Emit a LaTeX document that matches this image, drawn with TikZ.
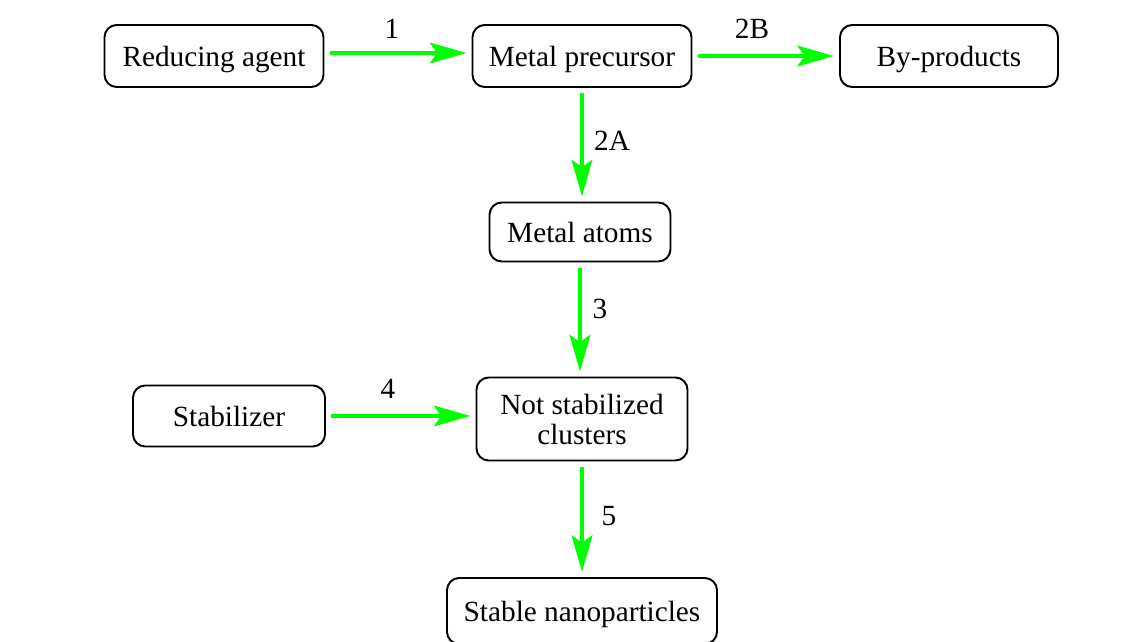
\documentclass[tikz,border=0pt]{standalone}
\usepackage{fontspec}
\setmainfont{Liberation Serif}
\usetikzlibrary{arrows.meta,positioning}

\begin{document}
\begin{tikzpicture}[x=0.0144cm,y=-0.0144cm,
		stepbox/.style={draw,line width=0.8pt,rounded corners=5pt,font=\fontsize{12}{13}\selectfont,align=center,inner sep=0pt,outer sep=2.5pt,text height=10.4pt,text depth=1.6pt},
		flow/.style={-{Stealth[length=15pt,width=8.5pt,inset=3pt]},line width=1.3pt,color=green},
		num/.style={font=\fontsize{12}{13}\selectfont}]
		\useasboundingbox (0,0) rectangle (1140,642);
		% boxes
		\node[stepbox,minimum width=219*0.0144cm,minimum height=62*0.0144cm] (agent) at (214,56) {Reducing agent};
		\node[stepbox,minimum width=219*0.0144cm,minimum height=62*0.0144cm] (precursor) at (582,56) {Metal precursor};
		\node[stepbox,minimum width=218*0.0144cm,minimum height=62*0.0144cm] (byprod) at (949,56) {By-products};
		\node[stepbox,minimum width=181*0.0144cm,minimum height=59*0.0144cm] (atoms) at (580,232) {Metal atoms};
		\node[stepbox,minimum width=192*0.0144cm,minimum height=61*0.0144cm] (stab) at (229,416) {Stabilizer};
		\node[stepbox,minimum width=211*0.0144cm,minimum height=83*0.0144cm,text height=,text depth=] (clusters) at (582,419)
			{\raisebox{-1.6pt}[\height][\depth]{\begin{tabular}{@{}c@{}}Not stabilized\\[-0.6pt]clusters\end{tabular}}};
		\node[stepbox,minimum width=270*0.0144cm,minimum height=66*0.0144cm] (nano) at (582,611) {Stable nanoparticles};
		% arrows
		\draw[flow] ([yshift=3*0.0144cm]agent.east) -- ([yshift=3*0.0144cm]precursor.west);
		\draw[flow] (precursor) -- (byprod);
		\draw[flow] (precursor) -- (precursor |- atoms.north);
		\draw[flow] (atoms) -- (atoms |- clusters.north);
		\draw[flow] (stab.east) -- (stab.east -| clusters.west);
		\draw[flow] (clusters) -- (nano);
		% step numbers
		\node[num] (n1) at (392,29) {1};
		\node[num] (n2b) at (752,29) {2B};
		\node[num] (n2a) at (612,141) {2A};
		\node[num] (n3) at (600,309) {3};
		\node[num] (n4) at (388,389) {4};
		\node[num] (n5) at (609,516) {5};
\end{tikzpicture}
\end{document}
